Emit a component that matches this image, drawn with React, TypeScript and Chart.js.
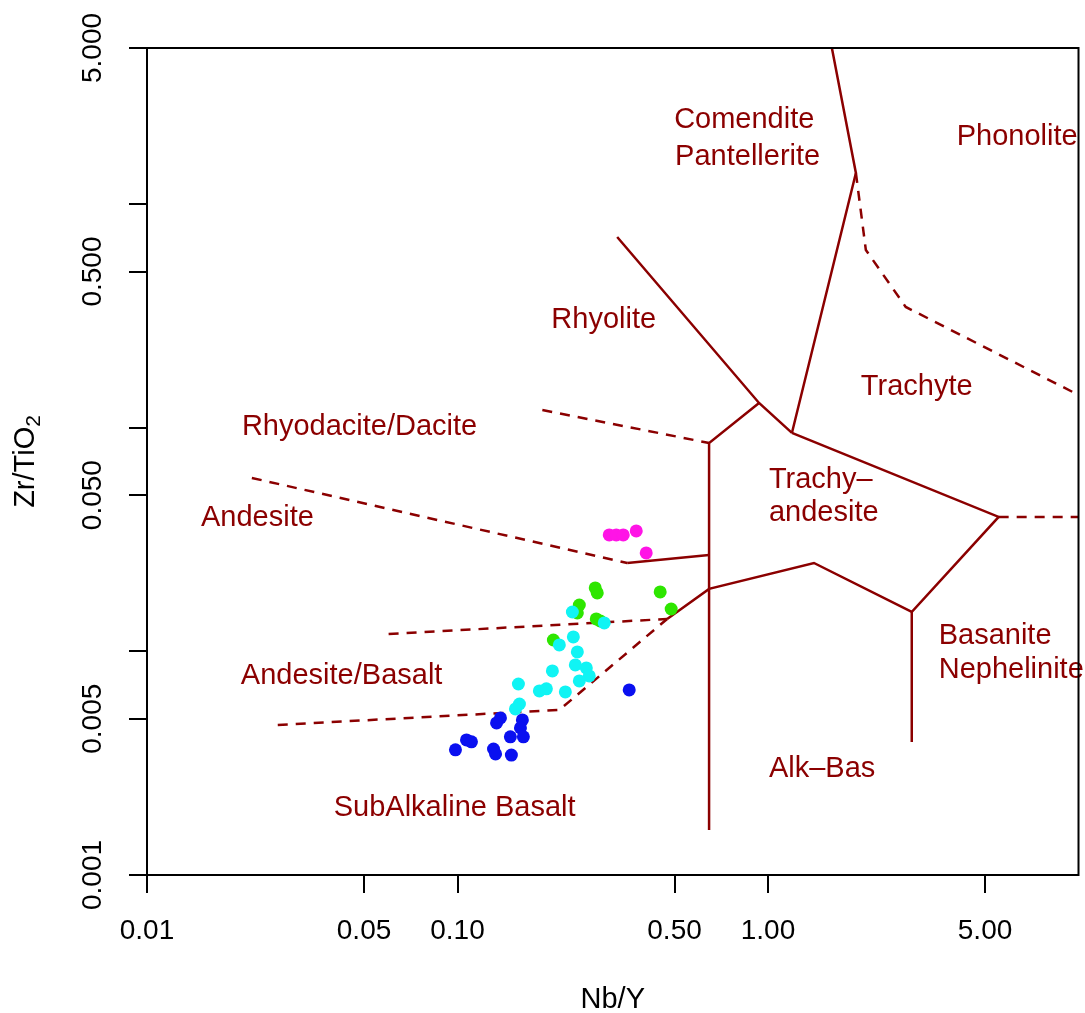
import React, { useEffect, useRef } from 'react';
import { Chart, registerables } from 'chart.js';

Chart.register(...registerables);

const FONT = '"Liberation Sans", Arial, Helvetica, sans-serif';
const DIAGRAM_COLOR = '#8B0000';

// ---- sample data (Nb/Y, Zr/TiO2) ----
const blueNbY = [0.1375, 0.1336, 0.1618, 0.1595, 0.148, 0.163, 0.1069, 0.1109, 0.0985, 0.1306, 0.1326, 0.1491, 0.3573];
const blueZrTi = [0.00504, 0.00479, 0.00494, 0.00455, 0.00415, 0.00415, 0.00402, 0.00394, 0.00363, 0.00366, 0.00348, 0.00344, 0.00673];

const cyanNbY = [0.2344, 0.2969, 0.2128, 0.2361, 0.2432, 0.2396, 0.2599, 0.2657, 0.2021, 0.2468, 0.1571, 0.1835, 0.1933, 0.2225, 0.1583, 0.1537];
const cyanZrTi = [0.01501, 0.01341, 0.01069, 0.01161, 0.00995, 0.0087, 0.00844, 0.00777, 0.00818, 0.00738, 0.00715, 0.00666, 0.0068, 0.00659, 0.00582, 0.00553];

const greenNbY = [0.2777, 0.2819, 0.2468, 0.2432, 0.2798, 0.2882, 0.2036, 0.4495, 0.4877];
const greenZrTi = [0.01923, 0.01826, 0.01613, 0.01486, 0.01397, 0.01369, 0.01125, 0.01845, 0.01548];

const magentaNbY = [0.3081, 0.3245, 0.3418, 0.3764, 0.4053];
const magentaZrTi = [0.03319, 0.03319, 0.03319, 0.03458, 0.02757];

// ---- classification boundaries (Nb/Y, Zr/TiO2 vertices) ----
const solidBoundaries: number[][][] = [
  [[1.606, 5], [1.919, 1.38], [1.194, 0.0949]],
  [[0.3268, 0.7142], [0.9357, 0.1292], [1.194, 0.0949]],
  [[0.9357, 0.1292], [0.646, 0.08557], [0.646, 0.00159]],
  [[1.194, 0.0949], [5.532, 0.03995], [2.904, 0.01502], [2.904, 0.003937]],
  [[2.904, 0.01502], [1.406, 0.02487], [0.646, 0.01904], [0.4734, 0.01397]],
  [[0.3521, 0.02487], [0.646, 0.027]],
];
const dashedBoundaries: number[][][] = [
  [[0.1876, 0.1202], [0.646, 0.08557]],
  [[0.02176, 0.0597], [0.3521, 0.02487]],
  [[0.06, 0.01197], [0.4734, 0.01397]],
  [[0.02637, 0.004691], [0.2128, 0.005474], [0.4734, 0.01397]],
  [[1.919, 1.38], [2.066, 0.6245], [2.777, 0.3472], [10, 0.1403]],
  [[5.532, 0.03995], [10, 0.03995]],
];

// ---- field names (left anchor, Nb/Y, Zr/TiO2) ----
const fieldNames = ['Comendite', 'Pantellerite', 'Phonolite', 'Rhyolite', 'Trachyte', 'Rhyodacite/Dacite', 'Trachy\u2013', 'andesite', 'Andesite', 'Basanite', 'Nephelinite', 'Andesite/Basalt', 'Alk\u2013Bas', 'SubAlkaline Basalt'];
const fieldNbY = [0.4985, 0.5022, 4.053, 0.2006, 1.991, 0.02021, 1.007, 1.007, 0.01492, 3.546, 3.546, 0.02006, 1.007, 0.03994];
const fieldZrTi = [2.382, 1.627, 2.0, 0.3038, 0.1524, 0.1009, 0.0585, 0.04163, 0.03954, 0.01173, 0.008265, 0.007772, 0.002981, 0.001996];

// ---- axes ----
const xTicks = [0.01, 0.05, 0.1, 0.5, 1, 5];
const xTickLabels = ['0.01', '0.05', '0.10', '0.50', '1.00', '5.00'];
const yTicks = [0.001, 0.005, 0.01, 0.05, 0.1, 0.5, 1, 5];
const yTickLabels = ['0.001', '0.005', '', '0.050', '', '0.500', '', '5.000'];

const pts = (xs: number[], ys: number[]) => xs.map((x, i) => ({ x, y: ys[i] }));

const overlayPlugin = {
  id: 'overlay',
  afterDatasetsDraw(chart: any) {
    const { ctx, scales } = chart;
    const xs = scales.x;
    const ys = scales.y;
    ctx.save();
    ctx.fillStyle = DIAGRAM_COLOR;
    ctx.font = `29px ${FONT}`;
    ctx.textAlign = 'left';
    ctx.textBaseline = 'middle';
    fieldNames.forEach((t, i) => {
      ctx.fillText(t, xs.getPixelForValue(fieldNbY[i]), ys.getPixelForValue(fieldZrTi[i]));
    });
    ctx.restore();
  },
  afterDraw(chart: any) {
    const { ctx, chartArea: ca, scales } = chart;
    const ys = scales.y;
    ctx.save();
    ctx.strokeStyle = '#000';
    ctx.lineWidth = 2;
    ctx.strokeRect(ca.left, ca.top, ca.right - ca.left, ca.bottom - ca.top);

    // rotated y tick labels
    ctx.fillStyle = '#000';
    ctx.font = `28px ${FONT}`;
    ctx.textAlign = 'center';
    ctx.textBaseline = 'middle';
    yTicks.forEach((v, i) => {
      const lab = yTickLabels[i];
      if (!lab) return;
      const py = ys.getPixelForValue(v);
      ctx.save();
      ctx.translate(ca.left - 54, py);
      ctx.rotate(-Math.PI / 2);
      ctx.fillText(lab, 0, 0);
      ctx.restore();
    });

    // x title
    ctx.font = `29px ${FONT}`;
    ctx.fillText('Nb/Y', (ca.left + ca.right) / 2, 1000);

    // y title with subscript
    ctx.save();
    ctx.translate(26, (ca.top + ca.bottom) / 2);
    ctx.rotate(-Math.PI / 2);
    ctx.font = `29px ${FONT}`;
    const mainW = ctx.measureText('Zr/TiO').width;
    ctx.font = `21px ${FONT}`;
    const subW = ctx.measureText('2').width;
    const start = -(mainW + subW) / 2;
    ctx.textAlign = 'left';
    ctx.font = `29px ${FONT}`;
    ctx.fillText('Zr/TiO', start, 0);
    ctx.font = `21px ${FONT}`;
    ctx.fillText('2', start + mainW, 8);
    ctx.restore();

    ctx.restore();
  },
};

export default function App() {
  const canvasRef = useRef<HTMLCanvasElement | null>(null);

  useEffect(() => {
    if (!canvasRef.current) return;
    const lineSets: any[] = [];
    solidBoundaries.forEach((line) => {
      lineSets.push({
        data: line.map(([x, y]) => ({ x, y })),
        showLine: true,
        borderColor: DIAGRAM_COLOR,
        borderWidth: 2.5,
        pointRadius: 0,
        fill: false,
        order: 2,
      });
    });
    dashedBoundaries.forEach((line) => {
      lineSets.push({
        data: line.map(([x, y]) => ({ x, y })),
        showLine: true,
        borderColor: DIAGRAM_COLOR,
        borderWidth: 2.5,
        borderDash: [10, 8],
        pointRadius: 0,
        fill: false,
        order: 2,
      });
    });
    const pointSet = (xs: number[], ys: number[], color: string) => ({
      data: pts(xs, ys),
      backgroundColor: color,
      borderWidth: 0,
      pointRadius: 6.5,
      pointHoverRadius: 6.5,
      showLine: false,
      order: 1,
    });

    const chart = new Chart(canvasRef.current, {
      type: 'scatter',
      data: {
        datasets: [
          pointSet(blueNbY, blueZrTi, '#0a10f0'),
          pointSet(cyanNbY, cyanZrTi, '#10f4f4'),
          pointSet(greenNbY, greenZrTi, '#2ee600'),
          pointSet(magentaNbY, magentaZrTi, '#ff14e6'),
          ...lineSets,
        ],
      },
      options: {
        animation: false,
        responsive: false,
        devicePixelRatio: 1,
        events: [],
        layout: { padding: { left: 0, top: 48, right: 5, bottom: 0 } },
        plugins: { legend: { display: false }, tooltip: { enabled: false } },
        scales: {
          x: {
            type: 'logarithmic',
            min: 0.01,
            max: 10,
            afterBuildTicks: (s: any) => {
              s.ticks = xTicks.map((v) => ({ value: v }));
            },
            afterFit: (s: any) => {
              s.height = 138;
            },
            border: { display: false },
            grid: {
              display: true,
              drawOnChartArea: false,
              drawTicks: true,
              tickLength: 18,
              lineWidth: 2,
              color: '#000',
            },
            ticks: {
              autoSkip: false,
              maxRotation: 0,
              minRotation: 0,
              padding: 21,
              color: '#000',
              font: { family: FONT, size: 28 },
              callback: (_v: any, i: number) => xTickLabels[i],
            },
          },
          y: {
            type: 'logarithmic',
            min: 0.001,
            max: 5,
            afterBuildTicks: (s: any) => {
              s.ticks = yTicks.map((v) => ({ value: v }));
            },
            afterFit: (s: any) => {
              s.width = 147;
            },
            border: { display: false },
            grid: {
              display: true,
              drawOnChartArea: false,
              drawTicks: true,
              tickLength: 18,
              lineWidth: 2,
              color: '#000',
            },
            ticks: {
              display: false,
              callback: (_v: any, i: number) => yTickLabels[i],
            },
          },
        },
      },
      plugins: [overlayPlugin],
    });
    return () => chart.destroy();
  }, []);

  return (
    <div style={{ position: 'absolute', left: 0, top: 0, width: 1085, height: 1013, background: '#fff' }}>
      <canvas ref={canvasRef} width={1085} height={1013} />
    </div>
  );
}
